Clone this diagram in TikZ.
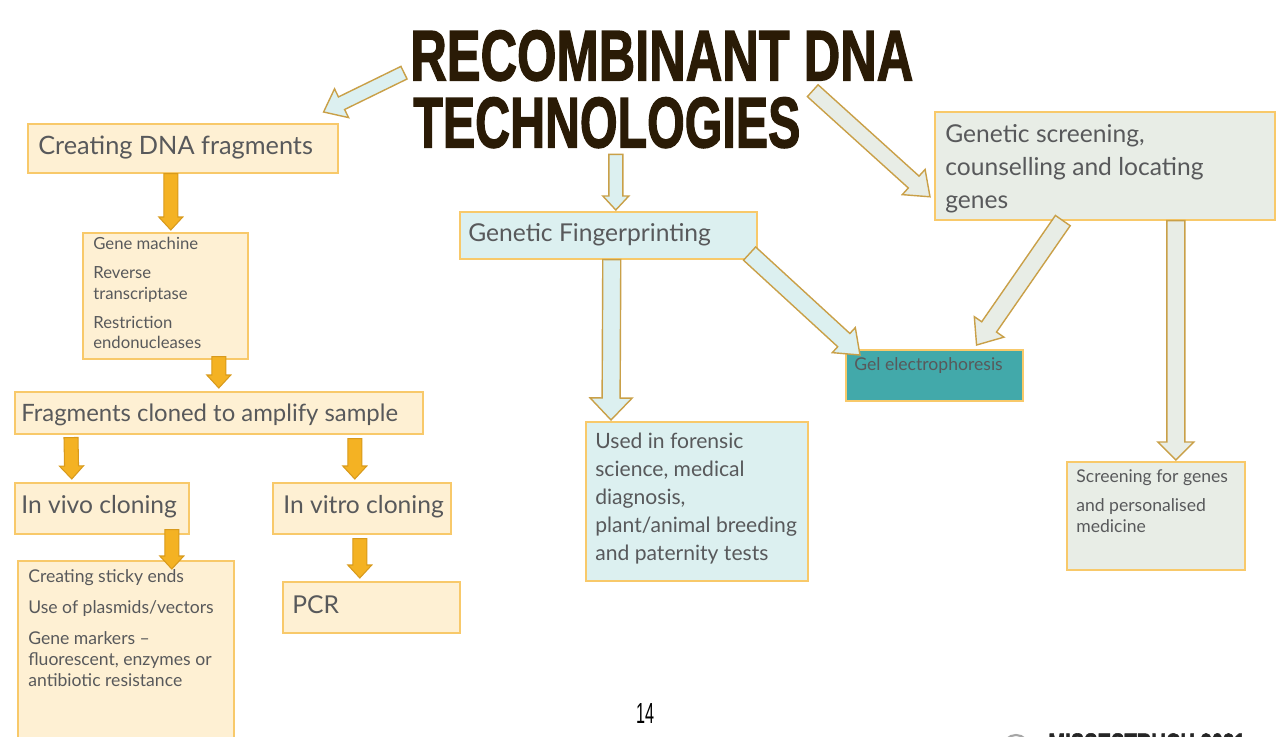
\documentclass[tikz,border=0pt]{standalone}
\usepackage{fontspec}
\setmainfont{Lato}
\newfontfamily\headfont{Liberation Sans}[BoldFeatures={FakeBold=2}]
\usepackage{xcolor}
\usetikzlibrary{calc}

\definecolor{txtgray}{HTML}{58595B}
\definecolor{headbrown}{HTML}{2A1B06}
\definecolor{boxline}{HTML}{F8C96A}
\definecolor{ylwfill}{HTML}{FEF0D3}
\definecolor{bluefill}{HTML}{DCF0F0}
\definecolor{grayfill}{HTML}{E8EDE6}
\definecolor{tealfill}{HTML}{42A9AA}
\definecolor{orfill}{HTML}{F4B223}
\definecolor{orline}{HTML}{D89A1C}
\definecolor{tanline}{HTML}{C9A048}

% block arrow: style, from, to, shaft half width, head half width, head length
\newcommand{\blockarrow}[6]{%
  \coordinate (ba) at (#2);
  \coordinate (bb) at (#3);
  \coordinate (bh) at ($(bb)!#6*0.2mm!(ba)$);
  \draw[#1] ($(ba)!#4*0.2mm!90:(bb)$) -- ($(bh)!#4*0.2mm!90:(bb)$)
    -- ($(bh)!#5*0.2mm!90:(bb)$) -- (bb) -- ($(bh)!#5*0.2mm!-90:(bb)$)
    -- ($(bh)!#4*0.2mm!-90:(bb)$) -- ($(ba)!#4*0.2mm!-90:(bb)$) -- cycle;
}

\tikzset{
  box/.style={draw=boxline, line width=0.9pt, anchor=north west, inner sep=0pt},
  size/.style 2 args={minimum width=#1*0.2mm, minimum height=#2*0.2mm},
  ybox/.style={box, fill=ylwfill},
  bbox/.style={box, fill=bluefill},
  gbox/.style={box, fill=grayfill},
  tbox/.style={box, fill=tealfill},
  txt/.style={anchor=north west, inner sep=0pt, text=txtgray, align=left},
  big/.style={txt, font=\fontsize{14}{18.7}\selectfont},
  mid/.style={txt, font=\fontsize{12}{15.9}\selectfont},
  small/.style={txt, font=\fontsize{9.5}{11.6}\selectfont},
  smallish/.style={txt, font=\fontsize{10}{11.8}\selectfont},
  orarrow/.style={fill=orfill, draw=orline, line width=0.6pt},
  barrow/.style={fill=bluefill, draw=tanline, line width=0.8pt},
  garrow/.style={fill=grayfill, draw=tanline, line width=0.8pt},
}

\begin{document}
\begin{tikzpicture}[x=0.2mm, y=-0.2mm]
\useasboundingbox (0,0) rectangle (1287,737);

% Title
\node[anchor=north west, inner sep=0pt, text=headbrown] (title1) at (410,30)
  {\resizebox{100.6mm}{10mm}{\headfont\bfseries RECOMBINANT DNA}};
\node[anchor=north west, inner sep=0pt, text=headbrown] (title2) at (413,97)
  {\resizebox{77.4mm}{10mm}{\headfont\bfseries TECHNOLOGIES}};

% Left branch: creating and cloning fragments
\node[ybox, size={310}{49}] (frag) at (27,123) {};
\node[big, font=\fontsize{14.4}{18.7}\selectfont] (fragtxt) at ($(frag.north west)+(11,13)$) {Creating DNA fragments};
\node[ybox, size={165}{126}] (genes) at (82,232) {};
\node[small] (genestxt) at ($(genes.north west)+(11,5)$)
  {Gene machine\\[5pt] Reverse\\ transcriptase\\[5pt] Restriction\\ endonucleases};
\node[ybox, size={408}{42}] (clone) at (14,391) {};
\node[big, font=\fontsize{13.6}{18}\selectfont] (clonetxt) at ($(clone.north west)+(7,13)$) {Fragments cloned to amplify sample};
\node[ybox, size={174}{51}] (vivo) at (14,482) {};
\node[big] (vivotxt) at ($(vivo.north west)+(7,13)$) {In vivo cloning};
\node[ybox, size={178}{51}] (vitro) at (272,482) {};
\node[big] (vitrotxt) at ($(vitro.north west)+(11,13)$) {In vitro cloning};
\node[ybox, size={216}{190}] (sticky) at (17,560) {};
\node[smallish] (stickytxt) at ($(sticky.north west)+(11,9)$)
  {Creating sticky ends\\[6pt] Use of plasmids/vectors\\[6pt] Gene markers --\\
   fluorescent, enzymes or\\ antibiotic resistance};
\node[ybox, size={177}{51}] (pcr) at (282,581) {};
\node[big] (pcrtxt) at ($(pcr.north west)+(10,14)$) {PCR};

% Middle branch: fingerprinting
\node[bbox, size={297}{47}] (finger) at (459,211) {};
\node[big] (fingertxt) at ($(finger.north west)+(9,12)$) {Genetic Fingerprinting};
\node[bbox, size={222}{159}] (uses) at (585,421) {};
\node[mid] (usestxt) at ($(uses.north west)+(10,12)$)
  {Used in forensic\\ science, medical\\ diagnosis,\\ plant/animal breeding\\ and paternity tests};
\node[tbox, size={177}{51}] (gel) at (845,349) {};
\node[smallish] (geltxt) at ($(gel.north west)+(9,8)$) {Gel electrophoresis};

% Right branch: screening
\node[gbox, size={340}{108}] (screen) at (934,111) {};
\node[big] (screentxt) at ($(screen.north west)+(11,13)$)
  {Genetic screening,\\ counselling and locating\\ genes};
\node[gbox, size={178}{108}] (medic) at (1066,461) {};
\node[smallish] (medictxt) at ($(medic.north west)+(10,8)$)
  {Screening for genes\\[5pt] and personalised\\ medicine};

% Orange arrows
\blockarrow{orarrow}{$(frag.south)+(-12,0)$}{$(genes.north)+(5.5,-2)$}{7}{12}{13}
\blockarrow{orarrow}{$(genes.south)+(53.5,-3)$}{$(clone.north)+(0,-3)$}{7}{12}{13}
\blockarrow{orarrow}{$(clone.south west)+(57,3)$}{$(vivo.north)+(-30,-3)$}{7}{12}{13}
\blockarrow{orarrow}{$(clone.south)+(136,4)$}{$(vitro.north)+(-7,-3)$}{7}{12}{13}
\blockarrow{orarrow}{$(vivo.south)+(70,-5)$}{$(sticky.north)+(46,9)$}{7}{12}{13}
\blockarrow{orarrow}{$(vitro.south)+(-2,4)$}{$(pcr.north)+(-11.5,-3)$}{7}{12}{13}

% Outline arrows
\blockarrow{barrow}{$(title1.west)+(-6,17)$}{$(frag.north east)+(-15,-11)$}{7}{16}{20}
\blockarrow{barrow}{$(title2.south)+(9,6)$}{$(finger.north)+(7.5,-1)$}{7}{13}{14}
\blockarrow{garrow}{$(title2.east)+(12,-32)$}{$(screen.west)+(-4,31)$}{8}{17}{22}
\blockarrow{barrow}{$(finger.south)+(3.5,0)$}{$(uses.north west)+(26,-1)$}{9}{21}{22}
\blockarrow{barrow}{$(finger.south east)+(-8,-6)$}{$(gel.north west)+(15,6)$}{9}{17}{22}
\blockarrow{garrow}{$(screen.south)+(-42,0)$}{$(gel.north east)+(-47,-4)$}{9}{18}{22}
\blockarrow{garrow}{$(screen.south)+(71,0)$}{$(medic.north)+(20,-1)$}{9}{18}{18}

% Footer
\node[inner sep=0pt, anchor=north] (pagenum) at (645,703)
  {\resizebox{3.6mm}{4mm}{\headfont 14}};
\draw[gray!70, line width=1.2pt] (1016,748) circle (13);
\node[anchor=north west, inner sep=0pt, text=black!85] (credit) at (1048,733)
  {\resizebox{39.4mm}{4mm}{\headfont\bfseries MISSESTRUCH 2021}};
\end{tikzpicture}
\end{document}
